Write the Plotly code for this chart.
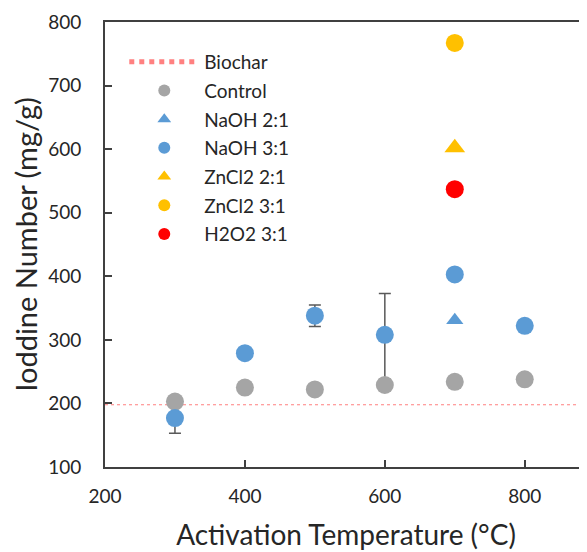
import plotly.graph_objects as go

# ---- data ----
biochar_value = 198
axis_span_x = [200, 1000]

control_x = [300, 400, 500, 600, 700, 800]
control_y = [203, 225, 222, 229, 234, 238]

naoh21_x = [700]
naoh21_y = [331]

naoh31_x = [300, 400, 500, 600, 700, 800]
naoh31_y = [177, 279, 338, 308, 403, 322]
naoh31_err_plus = [24, 0, 17, 65, 6, 0]
naoh31_err_minus = [24, 0, 17, 70, 6, 0]

zncl221_x = [700]
zncl221_y = [602]

zncl231_x = [700]
zncl231_y = [767]

h2o231_x = [700]
h2o231_y = [537]

x_ticks = [200, 400, 600, 800]
y_ticks = [100, 200, 300, 400, 500, 600, 700, 800]

FONT = "Lato"
TXT = "#262626"

fig = go.Figure()

fig.add_trace(go.Scatter(
    x=axis_span_x, y=[biochar_value, biochar_value], mode="lines",
    name="Biochar", legendgroup="g1", line=dict(color="#FF8080", width=1.1, dash="dot"),
))
# error bars of NaOH 3:1, drawn beneath all markers (as in the original)
fig.add_trace(go.Scatter(
    x=naoh31_x, y=naoh31_y, mode="markers", showlegend=False, hoverinfo="skip",
    marker=dict(size=1, opacity=0),
    error_y=dict(type="data", array=naoh31_err_plus, arrayminus=naoh31_err_minus,
                 symmetric=False, visible=True,
                 color="#595959", thickness=1.5, width=6),
))
fig.add_trace(go.Scatter(
    x=control_x, y=control_y, mode="markers", name="Control", legendgroup="g2",
    marker=dict(symbol="circle", size=18, color="#A5A5A5"),
))
fig.add_trace(go.Scatter(
    x=naoh21_x, y=naoh21_y, mode="markers", name="NaOH 2:1", legendgroup="g3",
    marker=dict(symbol="triangle-up", size=15, color="#5B9BD5"),
))
fig.add_trace(go.Scatter(
    x=naoh31_x, y=naoh31_y, mode="markers", name="NaOH 3:1", legendgroup="g4",
    marker=dict(symbol="circle", size=18, color="#5B9BD5"),
))
fig.add_trace(go.Scatter(
    x=zncl221_x, y=zncl221_y, mode="markers", name="ZnCl2 2:1", legendgroup="g5",
    marker=dict(symbol="triangle-up", size=18, color="#FFC000"),
))
fig.add_trace(go.Scatter(
    x=zncl231_x, y=zncl231_y, mode="markers", name="ZnCl2 3:1", legendgroup="g6",
    marker=dict(symbol="circle", size=18, color="#FFC000"),
))
fig.add_trace(go.Scatter(
    x=h2o231_x, y=h2o231_y, mode="markers", name="H2O2 3:1", legendgroup="g7",
    marker=dict(symbol="circle", size=18, color="#FF0000"),
))

# the page body adds an 8px offset; margins compensate for it
fig.update_layout(
    width=587, height=552,
    margin=dict(l=97, r=8, t=14, b=93, autoexpand=False),
    paper_bgcolor="white", plot_bgcolor="white",
    font=dict(family=FONT, size=19, color=TXT),
    showlegend=True,
    legend=dict(
        x=0.04, y=0.953, xanchor="left", yanchor="top",
        bgcolor="rgba(0,0,0,0)", font=dict(family=FONT, size=19, color=TXT),
        itemsizing="constant", itemwidth=70, tracegroupgap=1,
        traceorder="grouped",
    ),
    xaxis=dict(
        range=[200, 889], tickvals=x_ticks, ticks="inside", ticklen=7,
        tickcolor="#404040", tickwidth=1.5, automargin=False,
        showline=True, linecolor="#404040", linewidth=1.8, mirror=True,
        showgrid=False, zeroline=False,
        tickfont=dict(family=FONT, size=19, color=TXT),
        ticklabelstandoff=11,
        title=dict(text="Activation Temperature (°C)",
                   font=dict(family=FONT, size=28, color=TXT), standoff=20),
    ),
    yaxis=dict(
        range=[100, 800], tickvals=y_ticks, ticks="inside", ticklen=7,
        tickcolor="#404040", tickwidth=1.5, automargin=False,
        showline=True, linecolor="#404040", linewidth=1.8, mirror=False,
        showgrid=False, zeroline=False,
        tickfont=dict(family=FONT, size=19, color=TXT),
        ticklabelstandoff=18,
        title=dict(text="Ioddine Number (mg/g)",
                   font=dict(family=FONT, size=29, color=TXT), standoff=4),
    ),
)

fig.write_html("out.html")
